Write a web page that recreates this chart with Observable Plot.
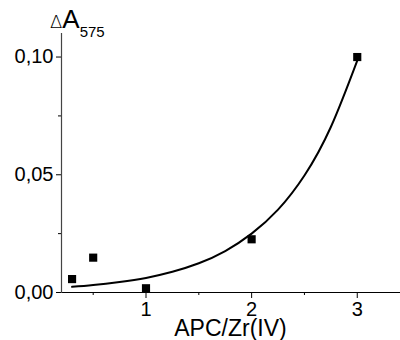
<!DOCTYPE html>
<html>
<head>
<meta charset="utf-8">
<script src="https://cdn.jsdelivr.net/npm/d3@7"></script>
<script src="https://cdn.jsdelivr.net/npm/@observablehq/plot@0.6"></script>
<style>
  html, body { margin: 0; padding: 0; background: #fff; }
  #chart { width: 400px; height: 340px; }
</style>
</head>
<body>
<div id="chart"></div>
<script>
// measured points
const ratio = [0.3, 0.5, 1, 2, 3];
const dA = [0.0057, 0.0148, 0.0018, 0.0226, 0.100];

// fitted curve
const fitX = [0.3, 0.5, 0.75, 1, 1.25, 1.5, 1.75, 2, 2.25, 2.5, 2.75, 3];
const fitY = [0.0024, 0.0032, 0.0045, 0.0062, 0.0088, 0.0124, 0.0176, 0.0250, 0.0352, 0.0497, 0.0703, 0.0985];

const xTicks = [1, 2, 3];
const xMinor = [0.5, 1.5, 2.5];
const yTicks = [0, 0.05, 0.10];
const yMinor = [0.025, 0.075];

const xLabel = "APC/Zr(IV)";
const yLabelMain = "A";
const yLabelDelta = "\u0394";
const yLabelSub = "575";

const points = ratio.map((x, i) => ({x, y: dA[i]}));
const fit = fitX.map((x, i) => ({x, y: fitY[i]}));
const fmt = d => d.toFixed(2).replace(".", ",");
const font = "Liberation Sans, Arial, sans-serif";

function yLabelMark(index, scales, values, dims) {
  const t = d3.create("svg:text")
    .attr("x", 50).attr("y", 28)
    .attr("text-anchor", "start")
    .attr("fill", "black")
    .attr("font-family", font);
  t.append("tspan").attr("font-size", 18).attr("font-family", "DejaVu Sans, sans-serif").attr("font-weight", 300).text(yLabelDelta);
  t.append("tspan").attr("font-size", 26).text(yLabelMain);
  t.append("tspan").attr("font-size", 15).attr("dy", 9).text(yLabelSub);
  return t.node();
}

const chart = Plot.plot({
  width: 400,
  height: 340,
  marginLeft: 61,
  marginRight: 1,
  marginTop: 33,
  marginBottom: 48,
  style: {fontFamily: font, background: "white", color: "black"},
  x: {domain: [0.2, 3.4]},
  y: {domain: [0, 0.11]},
  marks: [
    Plot.axisX(xTicks, {tickSize: 6, tickPadding: 3, fontSize: 20, tickFormat: d => String(d), label: null, stroke: "black"}),
    Plot.axisX(xMinor, {tickSize: 3, tickFormat: () => "", label: null, stroke: "black"}),
    Plot.axisY(yTicks, {tickSize: 5, tickPadding: 3, fontSize: 20, tickFormat: fmt, label: null, stroke: "black"}),
    Plot.axisY(yMinor, {tickSize: 3, tickFormat: () => "", label: null, stroke: "black"}),
    Plot.frame({anchor: "bottom", stroke: "black", strokeWidth: 1.2}),
    Plot.frame({anchor: "left", stroke: "#444", strokeWidth: 1.2}),
    Plot.line(fit, {x: "x", y: "y", curve: "natural", stroke: "black", strokeWidth: 2}),
    Plot.dot(points, {x: "x", y: "y", symbol: "square", r: 4.6, fill: "black", stroke: "none"}),
    Plot.text([xLabel], {frameAnchor: "bottom", dy: 36, fontSize: 23, lineAnchor: "middle", fill: "black"}),
    yLabelMark
  ]
});
document.getElementById("chart").appendChild(chart);
</script>
</body>
</html>
